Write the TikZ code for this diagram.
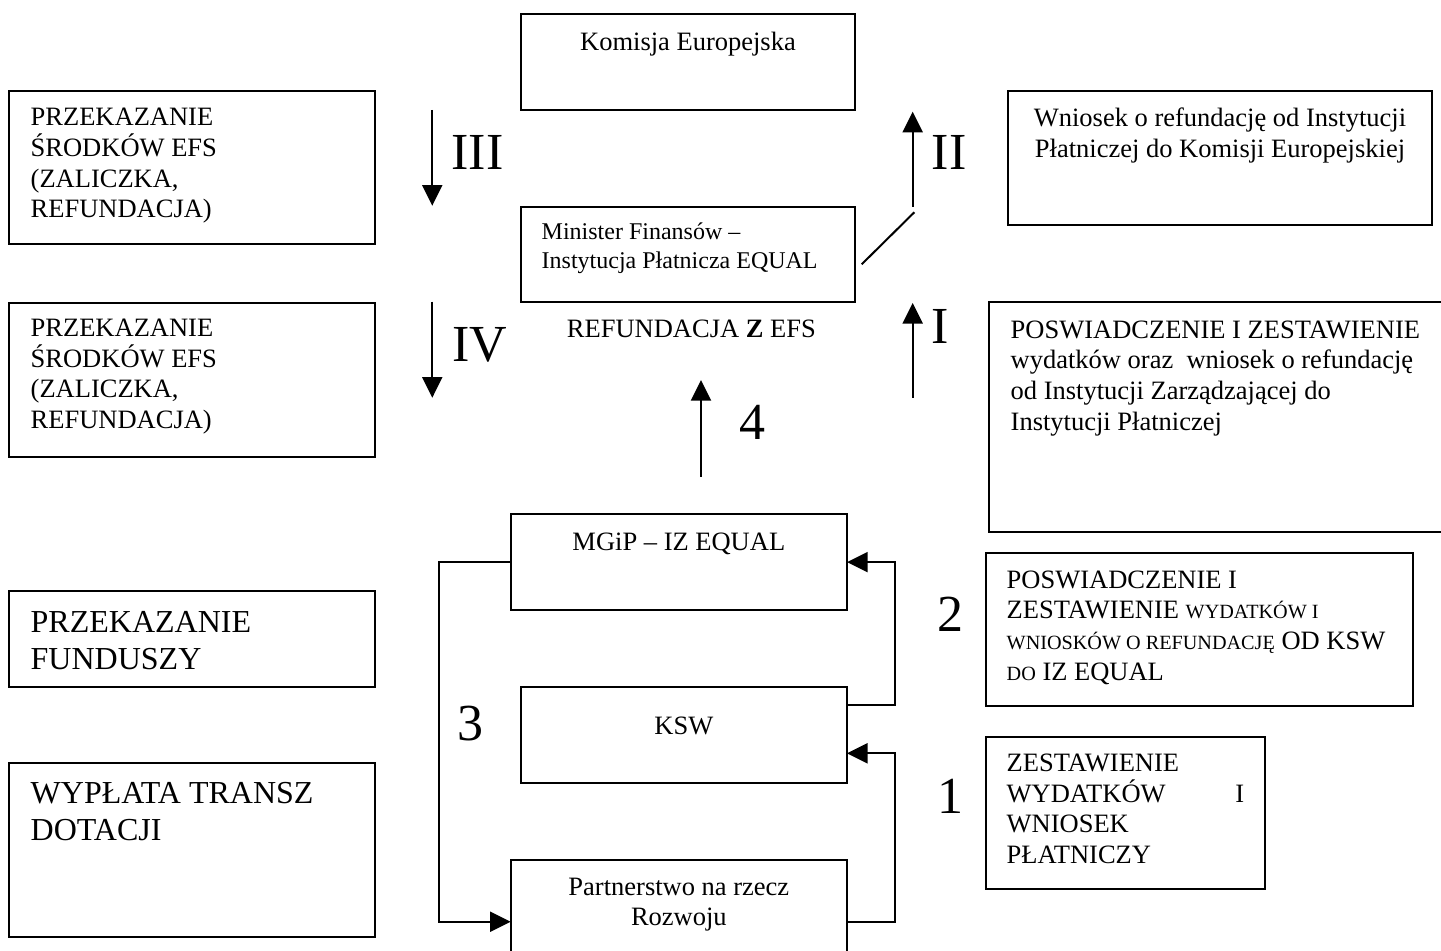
\documentclass[tikz,border=0pt]{standalone}
\usepackage{fontspec}
\setmainfont{Liberation Serif}
\usetikzlibrary{arrows.meta,calc}
\newlength\ux \setlength\ux{0.5pt}
\newcommand\fm{\fontsize{13.25}{15.3}\selectfont}
\newcommand\fmf{\fontsize{12}{14.5}\selectfont}
\newcommand\fbig{\fontsize{16}{18.5}\selectfont}
\newcommand\flab{\fontsize{26}{30}\selectfont}
\newcommand\smc[1]{{\fontsize{10.1}{15.3}\selectfont #1}}
% left aligned box text: width, height, first baseline offset, left offset, font, text
\newcommand\bxl[6]{\parbox[c][#2\ux][t]{#1\ux}{#5\raggedright\leftskip=#4\ux\rule{0pt}{#3\ux}#6\par}}
% centred box text: width, height, first baseline offset, font, text
\newcommand\bxc[5]{\parbox[c][#2\ux][t]{#1\ux}{#4\centering\rule{0pt}{#3\ux}#5\par}}
\begin{document}
\begin{tikzpicture}[x=0.5pt,y=-0.5pt,
  box/.style={draw,line width=1pt,inner sep=0pt,outer sep=0pt,anchor=north west},
  lab/.style={anchor=base,inner sep=0pt,font=\flab},
  arr/.style={line width=1pt,-{Triangle[width=10pt,length=10.3pt]}},
  ln/.style={line width=1pt}]
\useasboundingbox (0,0) rectangle (1441,951);
\fill[white] (0,0) rectangle (1441,951);
\clip (0,0) rectangle (1441,951);

% central column
\node[box] (ke) at (520.7,14.3) {\bxc{334.6}{95.7}{36.2}{\fm}{Komisja Europejska}};
\node[box] (mf) at (521,206.7) {\bxl{334}{95.6}{32.6}{20.7}{\fmf}{Minister Finansów –\\Instytucja Płatnicza EQUAL}};
\node[anchor=base,inner sep=0pt,font=\fm] (ref) at (691.4,337.3) {REFUNDACJA \textbf{Z} EFS};
\node[box] (mgip) at (510.7,514.3) {\bxc{336.3}{95.7}{36.4}{\fm}{MGiP – IZ EQUAL}};
\node[box] (ksw) at (520.7,687.3) {\bxc{326.3}{95.4}{47.7}{\fm}{KSW}};
\node[box] (part) at (510.7,860) {\bxc{336.3}{120}{35}{\fontsize{13.25}{15}\selectfont}{Partnerstwo na rzecz\\Rozwoju}};

% left column
\node[box] (b3) at (9.3,90.7) {\bxl{365.7}{153.6}{35.3}{21.4}{\fm}{PRZEKAZANIE\\ŚRODKÓW EFS\\(ZALICZKA,\\REFUNDACJA)}};
\node[box] (b4) at (9.3,302.7) {\bxl{365.7}{154}{34}{21.4}{\fm}{PRZEKAZANIE\\ŚRODKÓW EFS\\(ZALICZKA,\\REFUNDACJA)}};
\node[box] (bf) at (9.3,591) {\bxl{365.7}{95.7}{41.3}{21.4}{\fbig}{PRZEKAZANIE\\FUNDUSZY}};
\node[box] (bw) at (9.3,762.7) {\bxl{365.7}{174.6}{41.3}{21.4}{\fbig}{WYPŁATA TRANSZ\\DOTACJI}};

% right column
\node[box] (bwn) at (1008.3,91) {\bxc{423.4}{134}{35.7}{\fm}{Wniosek o refundację od Instytucji\\Płatniczej do Komisji Europejskiej}};
\node[box] (bpo) at (989.3,302.3) {\bxl{480}{229.4}{36}{21.4}{\fm}{POSWIADCZENIE I ZESTAWIENIE\\wydatków oraz~ wniosek o refundację\\od Instytucji Zarządzającej do\\Instytucji Płatniczej}};
\node[box] (b2) at (986,552.7) {\bxl{427.3}{153.3}{35.6}{20.7}{\fm}{POSWIADCZENIE I\\ZESTAWIENIE \smc{WYDATKÓW I}\\\smc{WNIOSKÓW O REFUNDACJĘ} OD KSW\\\smc{DO} IZ EQUAL}};
\node[box] (b1) at (986,736.7) {\bxl{279}{152.6}{35}{20.7}{\fm}{ZESTAWIENIE\\\makebox[237.6\ux][l]{WYDATKÓW\hfill I}\\WNIOSEK\\PŁATNICZY}};

% numbered labels
\node[lab] (l3) at (477.5,170) {III};
\node[lab] (l4) at (479.7,361.7) {IV};
\node[lab] (l2r) at (949.3,170) {II};
\node[lab] (l1r) at (940.5,343.3) {I};
\node[lab] (n4) at (752.5,440) {4};
\node[lab] (n3) at (470.8,740.7) {3};
\node[lab] (n2) at (950,631.7) {2};
\node[lab] (n1) at (950,813.3) {1};

% free arrows
\coordinate (a3s) at (432.3,110);   \coordinate (a3e) at (432.3,205.7);
\coordinate (a4s) at (432.3,301.7); \coordinate (a4e) at (432.3,397.7);
\coordinate (a2s) at (912.7,206.7); \coordinate (a2e) at (912.7,111.7);
\coordinate (a1s) at (912.7,398);   \coordinate (a1e) at (912.7,303);
\coordinate (n4s) at (701,476.7);   \coordinate (n4e) at (701,380);
\coordinate (ds) at (861.7,264.3);  \coordinate (de) at (914.3,212.3);
\draw[arr] (a3s) -- (a3e);
\draw[arr] (a4s) -- (a4e);
\draw[arr] (a2s) -- (a2e);
\draw[arr] (a1s) -- (a1e);
\draw[arr] (n4s) -- (n4e);
\draw[ln] (ds) -- (de);

% loop connectors
\draw[arr] (mgip.west) -| (439,921.7) -- (part.west |- 0,921.7);
\draw[arr] ($(ksw.north east)+(0,17.7)$) -| ($(mgip.east)+(48,0)$) -- (mgip.east);
\draw[arr] (part.east |- 0,921.7) -| (895,753.3) -- (ksw.east |- 0,753.3);
\end{tikzpicture}
\end{document}
